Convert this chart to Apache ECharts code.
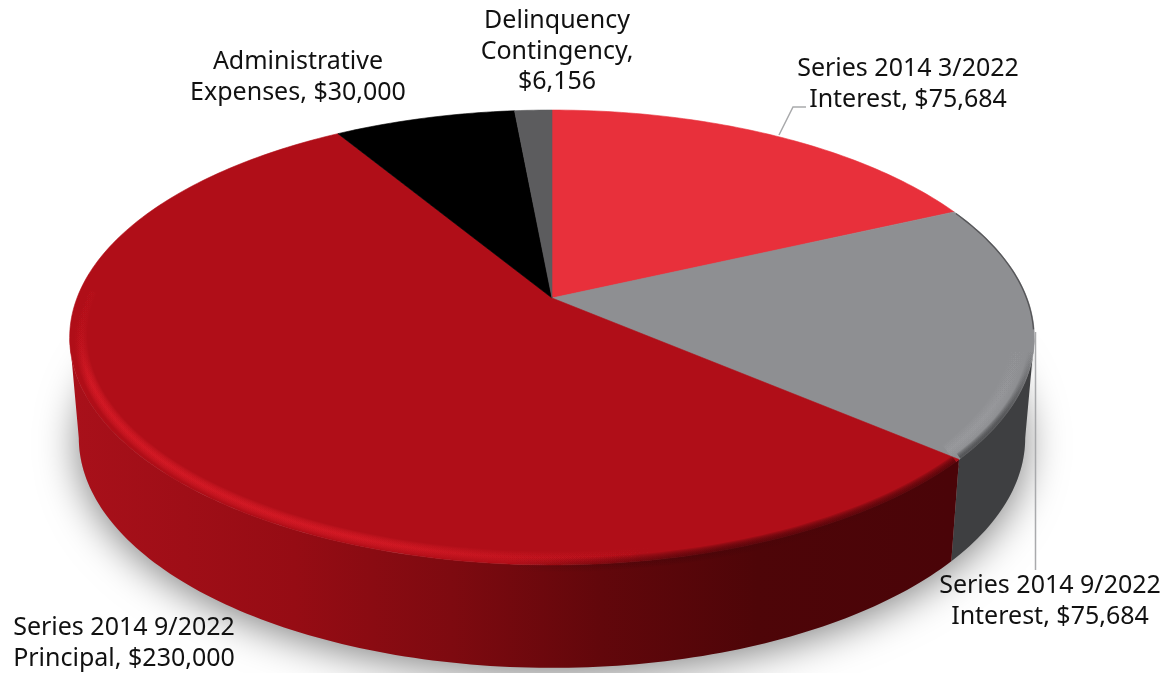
<!DOCTYPE html>
<html>
<head>
<meta charset="utf-8">
<style>html,body{margin:0;padding:0;background:#fff}#chart{width:1173px;height:673px}</style>
<script src="https://cdn.jsdelivr.net/npm/echarts@6/dist/echarts.min.js"></script>
</head>
<body>
<div id="chart"></div>
<script>
// Budget breakdown, drawn clockwise from twelve o'clock.
const categories = [
  'Series 2014 3/2022\nInterest, ',
  'Series 2014 9/2022\nInterest, ',
  'Series 2014 9/2022\nPrincipal, ',
  'Administrative\nExpenses, ',
  'Delinquency\nContingency,\n'
];
const amounts = [75684, 75684, 230000, 30000, 6156];

const faceColors = ['#e8303b', '#8e8f92', '#b00e18', '#000000', '#5c5c5e'];
const labelAnchors = [[908, 54], [1050, 571], [124, 613], [298, 47], [557, 6]];

const total = amounts.reduce((a, b) => a + b, 0);
const grad = echarts.graphic.LinearGradient;

// Perspective view of a flat disc: the far side is foreshortened.
const TILT = 0.1736;
const topDisc = { cx: 552, cy: 298, a: 475, b: 220.6 };
const baseDisc = { cx: 552, cy: 398, a: 466, b: 223 };
// Where the side wall's silhouette leaves the rim on each side.
const WALL_FROM = 100, WALL_TO = 260;

function project(d, deg, r) {
  const t = deg * Math.PI / 180, u = r * Math.sin(t), v = r * Math.cos(t), w = 1 + TILT * v;
  return [d.cx + d.a * u / w, d.cy - d.b * v / w];
}
function arc(d, from, to, r) {
  const pts = [], n = Math.max(2, Math.ceil(Math.abs(to - from)));
  for (let i = 0; i <= n; i++) pts.push(project(d, from + (to - from) * i / n, r));
  return pts;
}
function sliceRange(i) {
  let sum = 0;
  for (let k = 0; k < i; k++) sum += amounts[k];
  return [sum / total * 360, (sum + amounts[i]) / total * 360];
}

function renderShadow() {
  return {
    type: 'polygon', silent: true,
    shape: { points: arc(baseDisc, 0, 360, 1) },
    style: { fill: '#aaaaaa', shadowBlur: 40, shadowColor: 'rgba(0,0,0,0.5)', shadowOffsetY: 6 }
  };
}

const redWall = new grad(75, 0, 950, 0, [
  { offset: 0, color: '#a8101a' }, { offset: 0.25, color: '#960c14' },
  { offset: 0.43, color: '#7e0a10' }, { offset: 0.6, color: '#62070b' },
  { offset: 0.78, color: '#4e0508' }, { offset: 1, color: '#4a0408' }
], true);

function renderWall(params) {
  const [s, e] = sliceRange(params.dataIndex);
  const from = Math.max(s, WALL_FROM), to = Math.min(e, WALL_TO);
  if (to <= from) return null;
  const pts = arc(topDisc, from, to, 1).concat(arc(baseDisc, from, to, 1).reverse());
  return {
    type: 'polygon', silent: true, shape: { points: pts },
    style: { fill: params.dataIndex === 2 ? redWall : '#3e3f41' }
  };
}

function renderFace(params, api) {
  const i = params.dataIndex;
  const [s] = sliceRange(i);
  const share = api.value(0) / total * 360;
  const pts = [[topDisc.cx, topDisc.cy]].concat(arc(topDisc, s, s + share, 1));
  return {
    type: 'polygon', silent: true, shape: { points: pts },
    style: { fill: faceColors[i], stroke: faceColors[i], lineWidth: 0.6 }
  };
}

// Rim bevel: gradients along a diagonal so each bevel fades out at both ends.
const redGlow = a => new grad(72, 330, 650, 560, [
  { offset: 0, color: 'rgba(226,30,42,0)' }, { offset: 0.06, color: `rgba(226,30,42,${a})` },
  { offset: 0.55, color: `rgba(226,30,42,${a})` }, { offset: 1, color: 'rgba(226,30,42,0)' }
], true);
const redShade = a => new grad(75, 0, 950, 0, [
  { offset: 0, color: 'rgba(74,4,8,0)' }, { offset: 0.5, color: 'rgba(74,4,8,0)' },
  { offset: 0.74, color: `rgba(74,4,8,${a})` }, { offset: 1, color: `rgba(74,4,8,${a})` }
], true);
const grayGlow = a => new grad(0, 345, 0, 420, [
  { offset: 0, color: 'rgba(170,170,174,0)' }, { offset: 1, color: `rgba(170,170,174,${a})` }
], true);
const grayShade = a => new grad(0, 350, 0, 420, [
  { offset: 0, color: 'rgba(62,63,65,0)' }, { offset: 1, color: `rgba(62,63,65,${a})` }
], true);

// Layered strokes of shrinking width give a soft-edged band.
function softBand(points, colorAt, maxWidth, layers, alpha) {
  const out = [];
  for (let n = layers; n > 0; n--) {
    out.push({
      type: 'polyline', silent: true, shape: { points },
      style: { fill: null, stroke: colorAt(alpha), lineWidth: maxWidth * n / layers, lineCap: 'butt', lineJoin: 'round' }
    });
  }
  return out;
}

function renderBevel() {
  const [, ge] = sliceRange(1);
  const [rs] = sliceRange(2);
  const redInner = arc(topDisc, rs + 1.5, WALL_TO + 12, 0.978);
  const redEdge = arc(topDisc, rs + 0.6, WALL_TO, 1);
  const grayInner = arc(topDisc, 92, ge - 0.6, 0.968);
  const grayEdge = arc(topDisc, 92, ge - 0.4, 0.997);
  const grayBack = arc(topDisc, sliceRange(1)[0] + 0.5, 98, 0.999);
  return {
    type: 'group', silent: true,
    children: [
      ...softBand(redInner, redGlow, 13, 8, 0.12),
      ...softBand(redEdge, redShade, 14, 7, 0.2),
      ...softBand(grayInner, grayGlow, 16, 8, 0.05),
      ...softBand(grayEdge, grayShade, 10, 8, 0.14),
      { type: 'polyline', silent: true, shape: { points: grayBack },
        style: { fill: null, stroke: 'rgba(60,60,62,0.7)', lineWidth: 1.4 } }
    ]
  };
}

const labelFont = '25px "Noto Sans"';
const labels = categories.map((c, i) => ({
  type: 'text', silent: true, z: 20, x: labelAnchors[i][0], y: labelAnchors[i][1],
  style: {
    text: c + '$' + amounts[i].toLocaleString('en-US'),
    font: labelFont, lineHeight: 30.5, fill: '#111', textAlign: 'center', textVerticalAlign: 'top'
  }
}));
const leaders = [
  [[779, 135], [793, 107], [806, 107]],
  [[1035.5, 332], [1035.5, 570]]
].map(points => ({
  type: 'polyline', silent: true, z: 15, shape: { points },
  style: { fill: null, stroke: '#a9aaac', lineWidth: 1.5 }
}));

const single = [{ value: 1 }];
const wrapped = amounts.map(v => ({ value: [v] }));
const chart = echarts.init(document.getElementById('chart'), null, { renderer: 'canvas' });
chart.setOption({
  animation: false,
  backgroundColor: '#ffffff',
  series: [
    { type: 'custom', coordinateSystem: 'none', z: 1, data: single, renderItem: renderShadow },
    { type: 'custom', coordinateSystem: 'none', z: 2, data: wrapped, renderItem: renderWall },
    { type: 'custom', coordinateSystem: 'none', z: 3, data: wrapped, renderItem: renderFace },
    { type: 'custom', coordinateSystem: 'none', z: 4, data: single, renderItem: renderBevel }
  ],
  graphic: { elements: leaders.concat(labels) }
});
</script>
</body>
</html>
